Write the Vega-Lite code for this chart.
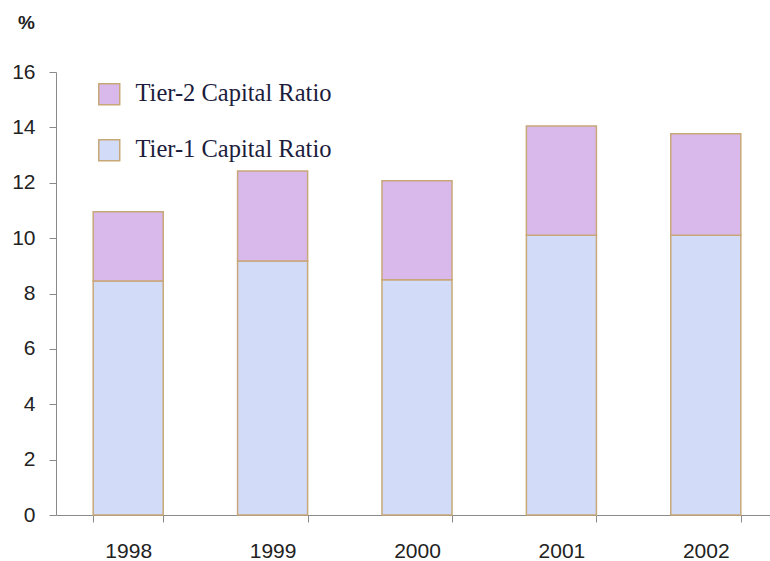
{
  "$schema": "https://vega.github.io/schema/vega-lite/v6.json",
  "width": 722,
  "height": 443,
  "autosize": {"type": "none"},
  "padding": {"left": 56, "top": 72, "right": 0, "bottom": 46},
  "background": "white",
  "config": {"view": {"stroke": null}},
  "data": {
    "values": [
      {"year": "1998", "series": "Tier-1 Capital Ratio", "value": 8.45},
      {"year": "1998", "series": "Tier-2 Capital Ratio", "value": 2.5},
      {"year": "1999", "series": "Tier-1 Capital Ratio", "value": 9.17},
      {"year": "1999", "series": "Tier-2 Capital Ratio", "value": 3.25},
      {"year": "2000", "series": "Tier-1 Capital Ratio", "value": 8.5},
      {"year": "2000", "series": "Tier-2 Capital Ratio", "value": 3.57},
      {"year": "2001", "series": "Tier-1 Capital Ratio", "value": 10.1},
      {"year": "2001", "series": "Tier-2 Capital Ratio", "value": 3.95},
      {"year": "2002", "series": "Tier-1 Capital Ratio", "value": 10.1},
      {"year": "2002", "series": "Tier-2 Capital Ratio", "value": 3.67}
    ]
  },
  "mark": {"type": "bar", "stroke": "#c8a878", "strokeWidth": 1.5},
  "encoding": {
    "x": {
      "field": "year",
      "type": "ordinal",
      "scale": {"paddingInner": 0.515, "paddingOuter": 0.2575},
      "axis": {
        "title": null,
        "labelAngle": 0,
        "tickBand": "extent",
        "domainColor": "#8a8a8a",
        "tickColor": "#8a8a8a",
        "tickSize": 7,
        "labelPadding": 18,
        "labelFont": "Liberation Sans",
        "labelFontSize": 21,
        "labelColor": "#222222"
      }
    },
    "y": {
      "field": "value",
      "type": "quantitative",
      "stack": "zero",
      "scale": {"domain": [0, 16], "nice": false},
      "axis": {
        "values": [0, 2, 4, 6, 8, 10, 12, 14, 16],
        "grid": false,
        "domainColor": "#8a8a8a",
        "tickColor": "#8a8a8a",
        "tickSize": 7,
        "labelPadding": 14,
        "labelFont": "Liberation Sans",
        "labelFontSize": 21,
        "labelColor": "#222222",
        "title": "%",
        "titleAngle": 0,
        "titleX": -30,
        "titleY": -50,
        "titleAlign": "center",
        "titleBaseline": "middle",
        "titleFont": "Liberation Sans",
        "titleFontSize": 19,
        "titleFontWeight": "bold",
        "titleColor": "#222222"
      }
    },
    "color": {
      "field": "series",
      "type": "nominal",
      "scale": {
        "domain": ["Tier-2 Capital Ratio", "Tier-1 Capital Ratio"],
        "range": ["#d9b8ec", "#d2dcf8"]
      },
      "legend": {
        "title": null,
        "orient": "none",
        "legendX": 41,
        "legendY": 10,
        "padding": 0,
        "symbolType": "square",
        "symbolSize": 440,
        "symbolStrokeColor": "#c8a878",
        "symbolStrokeWidth": 1.5,
        "rowPadding": 28,
        "labelOffset": 14,
        "labelFont": "Liberation Serif",
        "labelFontSize": 24.5,
        "labelColor": "#1c1c3c",
        "labelLimit": 400
      }
    },
    "order": {"field": "series", "sort": "ascending"}
  }
}
